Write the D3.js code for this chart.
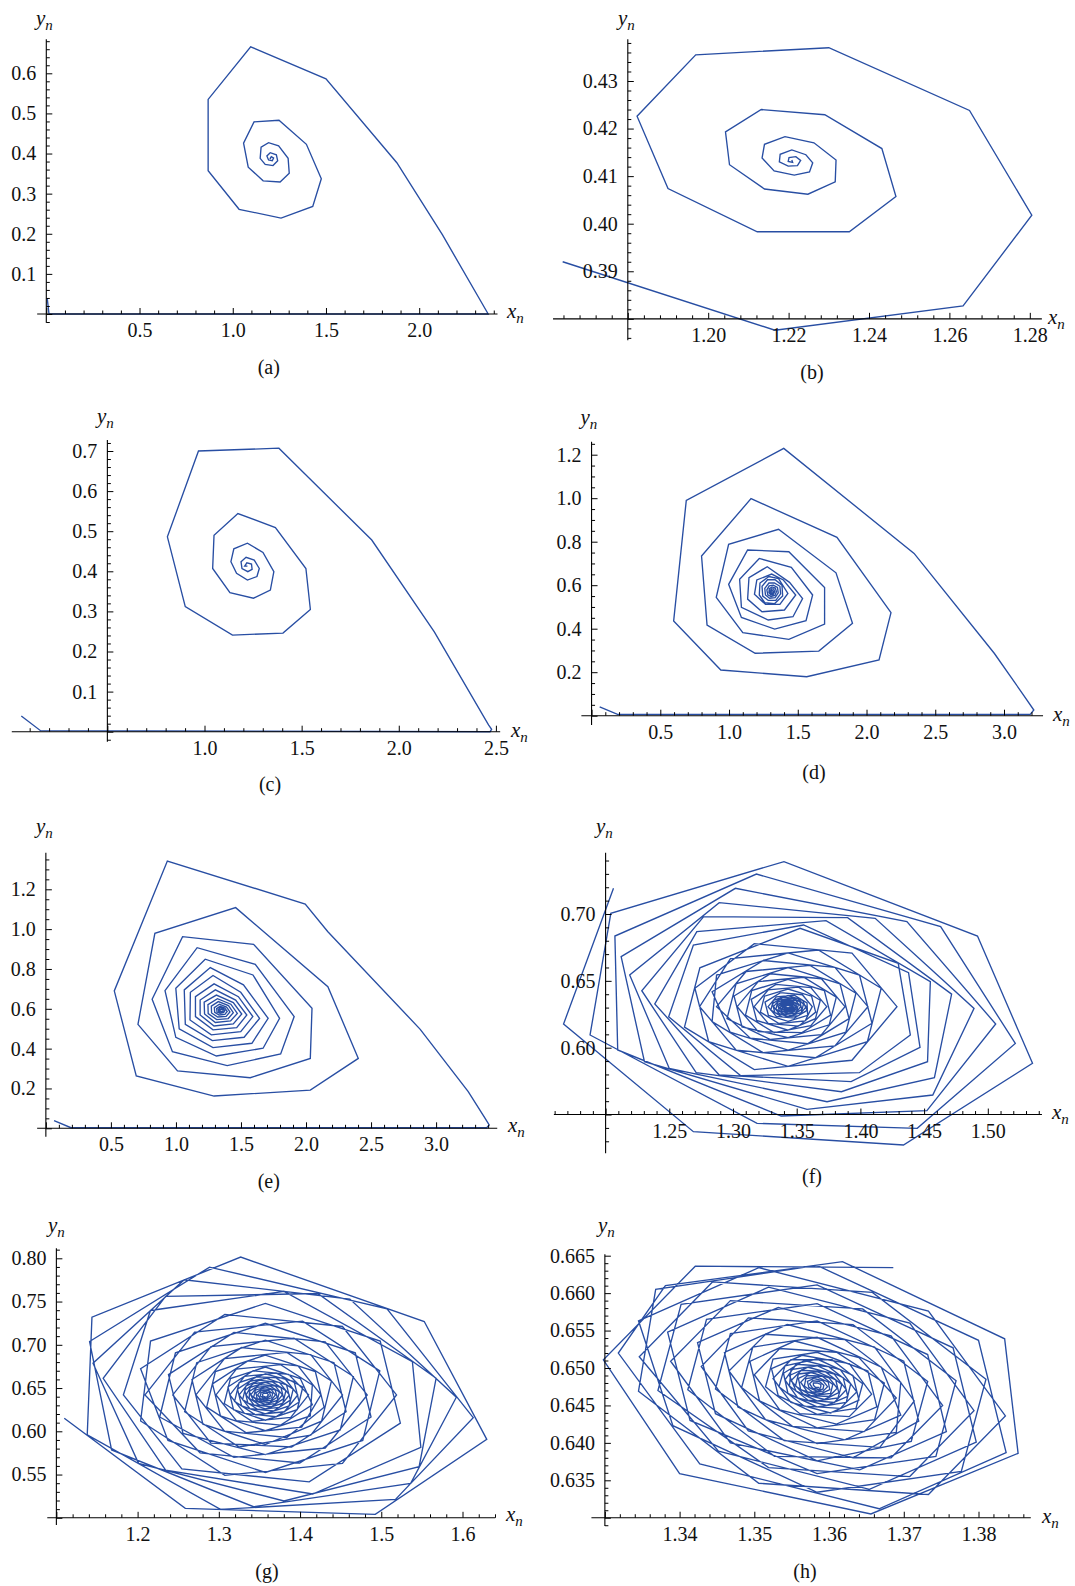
<!DOCTYPE html>
<html>
<head>
<meta charset="utf-8">
<script src="https://d3js.org/d3.v7.min.js"></script>
<style>
  body { margin: 0; background: #fff; }
  text { font-family: "Liberation Serif", "DejaVu Serif", serif; fill: #111; }
  .tl { font-size: 20px; }
  .cap { font-size: 20px; }
  .var { font-size: 21px; font-style: italic; }
  .traj { fill: none; stroke: #284ea3; stroke-width: 1.35; }
  .ax { stroke: #000; stroke-width: 1.1; }
</style>
</head>
<body>
<div id="chart"></div>
<script>
// ---- trajectories (x_n, y_n) ----
var trajA = [[0.005,0.039],[0.0145,0],[2.37,0],[2.125,0.197],[1.880,0.377],[1.500,0.586],[1.096,0.666],[0.868,0.535],[0.868,0.357],[1.034,0.261],[1.259,0.239],[1.429,0.268],[1.475,0.337],[1.395,0.423],[1.248,0.483],[1.114,0.479],[1.058,0.426],[1.083,0.366],[1.163,0.332],[1.254,0.329],[1.303,0.351],[1.297,0.388],[1.246,0.419],[1.192,0.427],[1.152,0.416],[1.147,0.388],[1.174,0.373],[1.216,0.370],[1.241,0.382],[1.234,0.397],[1.201,0.402],[1.183,0.394],[1.192,0.384],[1.212,0.382],[1.219,0.389],[1.207,0.392],[1.201,0.388],[1.205,0.387]];

var trajB = [[1.1638,0.3920],[1.2166,0.3776],[1.2634,0.3827],[1.2805,0.4018],[1.2650,0.4238],[1.2300,0.4370],[1.1969,0.4355],[1.1823,0.4226],[1.1900,0.4074],[1.2122,0.3983],[1.2351,0.3983],[1.2467,0.4057],[1.2432,0.4158],[1.2290,0.4229],[1.2132,0.4240],[1.2043,0.4193],[1.2053,0.4124],[1.2140,0.4073],[1.2248,0.4062],[1.2316,0.4088],[1.2318,0.4134],[1.2263,0.4170],[1.2191,0.4183],[1.2140,0.4167],[1.2134,0.4138],[1.2164,0.4111],[1.2214,0.4102],[1.2252,0.4109],[1.2260,0.4128],[1.2243,0.4145],[1.2208,0.4155],[1.2179,0.4146],[1.2177,0.4130],[1.2199,0.4121],[1.2222,0.4122],[1.2230,0.4133],[1.2218,0.4141],[1.2201,0.4139],[1.2199,0.4131],[1.2210,0.4129],[1.2208,0.4134]];

var trajC = [[0.057,0.039],[0.156,0.0025],[2.47,0],[2.478,0.006],[2.462,0.017],[2.183,0.249],[1.861,0.478],[1.383,0.707],[0.969,0.700],[0.809,0.486],[0.901,0.312],[1.144,0.241],[1.404,0.246],[1.545,0.305],[1.522,0.407],[1.365,0.509],[1.172,0.544],[1.049,0.490],[1.042,0.407],[1.131,0.347],[1.252,0.333],[1.339,0.353],[1.357,0.399],[1.301,0.447],[1.221,0.470],[1.151,0.456],[1.136,0.424],[1.165,0.395],[1.221,0.378],[1.270,0.387],[1.282,0.407],[1.256,0.428],[1.214,0.435],[1.188,0.424],[1.193,0.407],[1.223,0.399],[1.245,0.405],[1.242,0.418],[1.218,0.421],[1.207,0.413],[1.221,0.413]];

var trajD = [[0.059,0.041],[0.189,0.006],[3.191,0.006],[3.217,0.026],[3.142,0.095],[2.929,0.287],[2.346,0.746],[1.398,1.229],[0.689,0.990],[0.597,0.435],[0.940,0.210],[1.565,0.179],[2.091,0.256],[2.178,0.474],[1.785,0.820],[1.160,0.998],[0.800,0.734],[0.840,0.417],[1.190,0.287],[1.653,0.297],[1.898,0.425],[1.778,0.657],[1.360,0.857],[0.997,0.788],[0.907,0.544],[1.100,0.382],[1.435,0.351],[1.695,0.421],[1.695,0.589],[1.435,0.754],[1.135,0.762],[0.997,0.604],[1.090,0.452],[1.332,0.398],[1.560,0.437],[1.608,0.555],[1.453,0.682],[1.220,0.723],[1.077,0.627],[1.090,0.498],[1.285,0.440],[1.465,0.455],[1.535,0.539],[1.440,0.613],[1.278,0.685],[1.145,0.635],[1.135,0.536],[1.240,0.478],[1.403,0.486],[1.485,0.555],[1.395,0.624],[1.310,0.651],[1.202,0.624],[1.185,0.558],[1.265,0.512],[1.370,0.512],[1.428,0.562],[1.36,0.63],[1.29,0.64],[1.225,0.61],[1.22,0.555],[1.26,0.52],[1.33,0.515],[1.39,0.55],[1.385,0.60],[1.335,0.625],[1.28,0.625],[1.24,0.595],[1.245,0.55],[1.285,0.53],[1.34,0.53],[1.375,0.56],[1.37,0.595],[1.33,0.61],[1.29,0.61],[1.26,0.585],[1.265,0.555],[1.295,0.54],[1.335,0.543],[1.358,0.565],[1.352,0.59],[1.322,0.6],[1.292,0.597],[1.275,0.578],[1.282,0.556],[1.305,0.548],[1.333,0.553],[1.345,0.57],[1.336,0.587],[1.313,0.592],[1.293,0.584],[1.29,0.566],[1.303,0.556],[1.322,0.558],[1.332,0.57],[1.325,0.582],[1.31,0.584],[1.298,0.575],[1.302,0.563],[1.316,0.561],[1.322,0.571],[1.312,0.577],[1.305,0.57],[1.311,0.566]];

var trajE = [[0.063,0.038],[0.193,0.003],[3.389,0.003],[3.408,0.017],[3.377,0.050],[3.247,0.184],[2.878,0.497],[2.168,0.987],[1.994,1.126],[0.934,1.342],[0.526,0.690],[0.695,0.263],[1.293,0.162],[2.033,0.192],[2.402,0.351],[2.168,0.711],[1.459,1.108],[0.838,0.979],[0.708,0.522],[1.012,0.288],[1.571,0.254],[2.033,0.351],[2.046,0.603],[1.597,0.924],[1.051,0.962],[0.817,0.648],[0.973,0.385],[1.394,0.315],[1.805,0.373],[1.909,0.561],[1.610,0.823],[1.163,0.907],[0.916,0.691],[0.999,0.457],[1.311,0.363],[1.670,0.402],[1.797,0.552],[1.592,0.770],[1.225,0.849],[0.999,0.703],[1.025,0.499],[1.285,0.405],[1.584,0.427],[1.709,0.552],[1.519,0.720],[1.264,0.807],[1.064,0.695],[1.072,0.522],[1.280,0.440],[1.524,0.457],[1.643,0.552],[1.498,0.683],[1.285,0.767],[1.111,0.683],[1.108,0.544],[1.272,0.469],[1.498,0.485],[1.591,0.561],[1.480,0.661],[1.293,0.725],[1.150,0.661],[1.150,0.561],[1.285,0.494],[1.467,0.505],[1.545,0.569],[1.459,0.644],[1.303,0.695],[1.186,0.644],[1.186,0.569],[1.293,0.514],[1.441,0.524],[1.506,0.574],[1.441,0.631],[1.311,0.669],[1.217,0.633],[1.220,0.574],[1.303,0.531],[1.420,0.539],[1.472,0.577],[1.422,0.623],[1.319,0.651],[1.246,0.621],[1.248,0.576],[1.313,0.546],[1.402,0.551],[1.441,0.581],[1.404,0.616],[1.326,0.636],[1.272,0.613],[1.274,0.579],[1.321,0.559],[1.386,0.562],[1.415,0.584],[1.389,0.609],[1.334,0.623],[1.295,0.606],[1.298,0.582],[1.332,0.569],[1.376,0.572],[1.394,0.587],[1.376,0.604],[1.339,0.613],[1.313,0.601],[1.316,0.584],[1.339,0.577],[1.366,0.581],[1.376,0.591],[1.363,0.601],[1.342,0.606],[1.326,0.597],[1.329,0.587],[1.345,0.584],[1.360,0.587],[1.363,0.594],[1.350,0.599],[1.337,0.596],[1.339,0.589],[1.350,0.589]];

var trajF = [[1.2062,0.7192],[1.1670,0.6177],[1.2689,0.5372],[1.4338,0.5272],[1.5351,0.5883],[1.4919,0.6835],[1.3400,0.7392],[1.2041,0.7005],[1.1878,0.6095],[1.3189,0.5434],[1.4446,0.5397],[1.5216,0.6032],[1.4630,0.6905],[1.3184,0.7299],[1.2073,0.6835],[1.2095,0.5983],[1.3378,0.5489],[1.4522,0.5529],[1.5062,0.6177],[1.4365,0.6943],[1.3019,0.7192],[1.2122,0.6681],[1.2305,0.5895],[1.3581,0.5539],[1.4568,0.5646],[1.4892,0.6294],[1.4116,0.6968],[1.2892,0.7085],[1.2189,0.6544],[1.2500,0.5845],[1.3738,0.5596],[1.4581,0.5776],[1.4716,0.6401],[1.3900,0.6973],[1.2770,0.6980],[1.2284,0.6426],[1.2711,0.5813],[1.3851,0.5671],[1.4527,0.5895],[1.4549,0.6494],[1.3730,0.6950],[1.2716,0.6868],[1.2386,0.6327],[1.2892,0.5796],[1.3927,0.5746],[1.4468,0.6002],[1.4378,0.6561],[1.3554,0.6918],[1.2689,0.6768],[1.2495,0.6232],[1.3059,0.5791],[1.3992,0.5813],[1.4392,0.6095],[1.4297,0.6631],[1.3527,0.6893],
[1.2740,0.6598],[1.2619,0.6154],[1.3167,0.5836],[1.3934,0.5906],[1.4287,0.6307],[1.3934,0.6708],[1.3167,0.6778],
[1.2701,0.6445],[1.2809,0.6045],[1.3432,0.5861],[1.4055,0.6045],[1.4163,0.6445],[1.3670,0.6731],[1.2980,0.6667],
[1.2738,0.6307],[1.3025,0.5982],[1.3647,0.5925],[1.4091,0.6183],[1.3993,0.6543],[1.3432,0.6709],[1.2871,0.6543],
[1.2836,0.6195],[1.3238,0.5962],[1.3800,0.6013],[1.4059,0.6307],[1.3800,0.6601],[1.3238,0.6652],[1.2836,0.6419],
[1.2978,0.6116],[1.3432,0.5982],[1.3886,0.6116],[1.3965,0.6407],[1.3605,0.6616],[1.3103,0.6570],[1.2871,0.6307],
[1.3136,0.6071],[1.3588,0.6030],[1.3911,0.6217],[1.3840,0.6478],[1.3432,0.6599],[1.3024,0.6478],[1.2953,0.6217],
[1.3294,0.6061],[1.3694,0.6098],[1.3879,0.6307],[1.3694,0.6516],[1.3294,0.6553],[1.3008,0.6387],[1.3071,0.6155],
[1.3432,0.6076],[1.3755,0.6171],[1.3811,0.6378],[1.3555,0.6527],[1.3198,0.6494],[1.3033,0.6307],[1.3198,0.6120],
[1.3541,0.6113],[1.3766,0.6244],[1.3717,0.6427],[1.3432,0.6511],[1.3147,0.6427],[1.3098,0.6244],[1.3323,0.6113],
[1.3611,0.6165],[1.3736,0.6307],[1.3611,0.6449],[1.3338,0.6474],[1.3143,0.6361],[1.3186,0.6204],[1.3432,0.6131],
[1.3647,0.6217],[1.3685,0.6355],[1.3514,0.6453],[1.3276,0.6432],[1.3166,0.6307],[1.3276,0.6182],[1.3514,0.6161],
[1.3649,0.6266],[1.3617,0.6385],[1.3432,0.6439],[1.3247,0.6385],[1.3215,0.6266],[1.3361,0.6181],[1.3566,0.6200],
[1.3622,0.6307],[1.3544,0.6396],[1.3373,0.6412],[1.3251,0.6341],[1.3278,0.6242],[1.3432,0.6197],[1.3586,0.6242],
[1.3581,0.6335],[1.3481,0.6393],[1.3340,0.6380],[1.3275,0.6307],[1.3340,0.6234],[1.3481,0.6221],[1.3581,0.6279],
[1.3547,0.6355],[1.3432,0.6390],[1.3317,0.6355],[1.3297,0.6281],[1.3388,0.6229],[1.3516,0.6240],[1.3575,0.6307],
[1.3507,0.6367],[1.3392,0.6378],[1.3310,0.6330],[1.3328,0.6263],[1.3432,0.6233],[1.3536,0.6263],[1.3554,0.6330],
[1.3467,0.6370],[1.3365,0.6360],[1.3318,0.6307],[1.3365,0.6254],[1.3467,0.6244],[1.3540,0.6287],[1.3524,0.6346],
[1.3432,0.6365],[1.3351,0.6341],[1.3337,0.6289],[1.3401,0.6252],[1.3491,0.6260],[1.3532,0.6307],[1.3491,0.6354],
[1.3406,0.6354],[1.3351,0.6322],[1.3363,0.6278],[1.3432,0.6257],[1.3501,0.6278],[1.3513,0.6322],[1.3458,0.6354],
[1.3388,0.6342],[1.3358,0.6307],[1.3388,0.6272],[1.3455,0.6266],[1.3502,0.6294],[1.3492,0.6332],[1.3432,0.6350],
[1.3381,0.6328],[1.3372,0.6296],[1.3413,0.6272],[1.3469,0.6278],[1.3495,0.6307],[1.3469,0.6336],[1.3413,0.6342],
[1.3383,0.6316],[1.3390,0.6290],[1.3432,0.6277],[1.3474,0.6290],[1.3481,0.6316],[1.3448,0.6335],[1.3402,0.6331],
[1.3392,0.6307],[1.3409,0.6288],[1.3444,0.6285],[1.3470,0.6300],[1.3464,0.6321],[1.3432,0.6330],[1.3400,0.6321],
[1.3405,0.6302],[1.3423,0.6291],[1.3449,0.6294],[1.3461,0.6307],[1.3449,0.6320],[1.3423,0.6323],[1.3405,0.6312],
[1.3418,0.6301],[1.3432,0.6297],[1.3446,0.6301],[1.3448,0.6310],[1.3437,0.6316],[1.3422,0.6315],[1.3415,0.6307]];

var trajG = [[1.1097,0.6150],[1.2587,0.5109],[1.4926,0.5039],[1.6299,0.5907],[1.5529,0.7269],[1.3269,0.8014],[1.1438,0.7319],[1.1380,0.5958],[1.3020,0.5097],[1.5175,0.5213],[1.6132,0.6158],[1.5071,0.7416],[1.2886,0.7898],[1.1409,0.7038],[1.1680,0.5784],[1.3427,0.5128],[1.5362,0.5398],[1.5924,0.6394],[1.4613,0.7528],[1.2574,0.7752],[1.1451,0.6787],[1.2012,0.5630],[1.3802,0.5194],[1.5466,0.5591],[1.5675,0.6613],[1.4218,0.7593],[1.2345,0.7559],[1.1576,0.6613],[1.2345,0.5552],[1.4156,0.5275],[1.5487,0.5815],[1.5383,0.6806],[1.3802,0.7617],[1.2158,0.7397],
[1.1825,0.6421],[1.2545,0.5565],[1.4113,0.5415],[1.5235,0.6094],[1.4987,0.7043],[1.3573,0.7479],[1.2159,0.7043],
[1.2037,0.6119],[1.3074,0.5491],[1.4522,0.5630],[1.5188,0.6421],[1.4522,0.7212],[1.3074,0.7351],[1.2037,0.6723],
[1.2374,0.5894],[1.3573,0.5524],[1.4772,0.5894],[1.4982,0.6698],[1.4031,0.7274],[1.2702,0.7146],[1.2091,0.6421],
[1.2769,0.5751],[1.3996,0.5633],[1.4874,0.6165],[1.4680,0.6908],[1.3573,0.7249],[1.2466,0.6908],[1.2272,0.6165],
[1.3186,0.5699],[1.4310,0.5807],[1.4827,0.6421],[1.4310,0.7035],[1.3186,0.7143],[1.2380,0.6655],[1.2559,0.5975],
[1.3573,0.5731],[1.4495,0.6015],[1.4657,0.6634],[1.3925,0.7077],[1.2903,0.6979],[1.2433,0.6421],[1.2903,0.5863],
[1.3896,0.5819],[1.4567,0.6226],[1.4418,0.6793],[1.3573,0.7054],[1.2728,0.6793],[1.2579,0.6226],[1.3250,0.5819],
[1.4132,0.5956],[1.4523,0.6421],[1.4132,0.6886],[1.3279,0.6968],[1.2669,0.6599],[1.2804,0.6083],[1.3573,0.5846],
[1.4265,0.6117],[1.4386,0.6581],[1.3837,0.6913],[1.3070,0.6840],[1.2718,0.6421],[1.3070,0.6002],[1.3837,0.5929],
[1.4296,0.6279],[1.4188,0.6691],[1.3573,0.6881],[1.2958,0.6691],[1.2850,0.6279],[1.3338,0.5983],[1.4020,0.6049],
[1.4257,0.6421],[1.3975,0.6756],[1.3362,0.6815],[1.2922,0.6549],[1.3020,0.6178],[1.3573,0.6007],[1.4126,0.6178],
[1.4151,0.6535],[1.3761,0.6771],[1.3216,0.6719],[1.2965,0.6421],[1.3216,0.6123],[1.3761,0.6071],[1.4151,0.6307],
[1.4003,0.6610],[1.3573,0.6743],[1.3143,0.6610],[1.3067,0.6322],[1.3409,0.6115],[1.3886,0.6161],[1.4105,0.6421],
[1.3858,0.6658],[1.3423,0.6700],[1.3112,0.6512],[1.3181,0.6249],[1.3573,0.6128],[1.3965,0.6249],[1.4034,0.6512],
[1.3708,0.6673],[1.3316,0.6635],[1.3136,0.6421],[1.3316,0.6207],[1.3708,0.6169],[1.3989,0.6339],[1.3927,0.6576],
[1.3573,0.6663],[1.3250,0.6563],[1.3194,0.6346],[1.3450,0.6191],[1.3808,0.6226],[1.3972,0.6421],[1.3808,0.6616],
[1.3461,0.6629],[1.3230,0.6488],[1.3281,0.6293],[1.3573,0.6202],[1.3865,0.6293],[1.3916,0.6488],[1.3685,0.6629],
[1.3383,0.6579],[1.3250,0.6421],[1.3383,0.6263],[1.3673,0.6235],[1.3880,0.6361],[1.3834,0.6536],[1.3573,0.6617],
[1.3335,0.6526],[1.3293,0.6366],[1.3482,0.6251],[1.3746,0.6277],[1.3868,0.6421],[1.3746,0.6565],[1.3482,0.6591],
[1.3320,0.6471],[1.3358,0.6326],[1.3573,0.6260],[1.3788,0.6326],[1.3826,0.6471],[1.3655,0.6574],[1.3417,0.6551],
[1.3335,0.6421],[1.3433,0.6305],[1.3646,0.6284],[1.3799,0.6377],[1.3765,0.6506],[1.3573,0.6565],[1.3381,0.6506],
[1.3374,0.6382],[1.3508,0.6301],[1.3696,0.6319],[1.3782,0.6421],[1.3696,0.6523],[1.3508,0.6541],[1.3374,0.6460],
[1.3427,0.6357],[1.3573,0.6312],[1.3719,0.6357],[1.3745,0.6455],[1.3629,0.6525],[1.3467,0.6509],[1.3392,0.6421],
[1.3484,0.6347],[1.3620,0.6333],[1.3718,0.6393],[1.3696,0.6475],[1.3573,0.6513],[1.3450,0.6475],[1.3428,0.6393],
[1.3535,0.6350],[1.3646,0.6361],[1.3697,0.6421],[1.3646,0.6481],[1.3535,0.6492],[1.3456,0.6444],[1.3473,0.6377],
[1.3573,0.6363],[1.3650,0.6387],[1.3663,0.6439],[1.3602,0.6476],[1.3517,0.6468],[1.3478,0.6421],[1.3517,0.6374],
[1.3594,0.6383],[1.3636,0.6409],[1.3627,0.6445],[1.3573,0.6461],[1.3519,0.6445],[1.3510,0.6409],[1.3552,0.6383],
[1.3595,0.6402],[1.3611,0.6421],[1.3595,0.6440],[1.3561,0.6443],[1.3537,0.6428],[1.3542,0.6407],[1.3573,0.6398]];

var trajH = [[1.3686,0.6634],[1.3421,0.6636],[1.3298,0.6511],[1.3400,0.6359],[1.3656,0.6305],[1.3853,0.6386],[1.3835,0.6539],[1.3618,0.6642],[1.3381,0.6610],
[1.3318,0.6520],[1.3427,0.6372],[1.3667,0.6312],[1.3837,0.6387],[1.3800,0.6537],[1.3584,0.6637],[1.3368,0.6605],
[1.3345,0.6469],[1.3506,0.6346],[1.3733,0.6331],[1.3836,0.6436],[1.3733,0.6576],[1.3506,0.6634],[1.3345,0.6563],
[1.3391,0.6423],[1.3584,0.6334],[1.3777,0.6362],[1.3810,0.6485],[1.3658,0.6601],[1.3444,0.6615],[1.3346,0.6515],
[1.3452,0.6389],[1.3654,0.6338],[1.3797,0.6401],[1.3766,0.6527],[1.3584,0.6611],[1.3402,0.6585],[1.3371,0.6470],
[1.3519,0.6367],[1.3708,0.6355],[1.3794,0.6443],[1.3708,0.6560],[1.3519,0.6608],[1.3384,0.6548],[1.3414,0.6430],
[1.3584,0.6359],[1.3743,0.6382],[1.3770,0.6483],[1.3645,0.6579],[1.3468,0.6590],[1.3388,0.6509],[1.3468,0.6400],
[1.3641,0.6364],[1.3757,0.6415],[1.3732,0.6518],[1.3584,0.6586],[1.3436,0.6565],[1.3411,0.6471],[1.3527,0.6382],
[1.3683,0.6380],[1.3752,0.6450],[1.3683,0.6543],[1.3532,0.6581],[1.3424,0.6534],[1.3448,0.6439],[1.3584,0.6376],
[1.3710,0.6402],[1.3732,0.6482],[1.3632,0.6558],[1.3492,0.6567],[1.3429,0.6502],[1.3492,0.6416],[1.3632,0.6380],
[1.3720,0.6429],[1.3700,0.6509],[1.3584,0.6563],[1.3468,0.6546],[1.3448,0.6472],[1.3540,0.6403],[1.3668,0.6394],
[1.3714,0.6456],[1.3661,0.6528],[1.3544,0.6558],[1.3460,0.6521],[1.3478,0.6448],[1.3584,0.6399],[1.3690,0.6414],
[1.3696,0.6481],[1.3621,0.6538],[1.3515,0.6545],[1.3466,0.6496],[1.3515,0.6431],[1.3621,0.6404],[1.3696,0.6437],
[1.3670,0.6501],[1.3584,0.6541],[1.3498,0.6528],[1.3483,0.6474],[1.3551,0.6422],[1.3647,0.6415],[1.3690,0.6460],
[1.3640,0.6514],[1.3554,0.6536],[1.3494,0.6509],[1.3507,0.6456],[1.3584,0.6420],[1.3661,0.6431],[1.3674,0.6480],
[1.3610,0.6521],[1.3534,0.6526],[1.3500,0.6491],[1.3534,0.6444],[1.3610,0.6425],[1.3664,0.6448],[1.3652,0.6496],
[1.3584,0.6521],[1.3525,0.6512],[1.3515,0.6475],[1.3561,0.6439],[1.3627,0.6435],[1.3657,0.6465],[1.3627,0.6506],
[1.3564,0.6517],[1.3523,0.6499],[1.3532,0.6463],[1.3584,0.6438],[1.3636,0.6446],[1.3645,0.6479],[1.3604,0.6511],
[1.3549,0.6511],[1.3525,0.6486],[1.3549,0.6454],[1.3602,0.6440],[1.3640,0.6457],[1.3632,0.6490],[1.3584,0.6512],
[1.3541,0.6503],[1.3533,0.6475],[1.3567,0.6449],[1.3615,0.6446],[1.3637,0.6468],[1.3615,0.6498],[1.3567,0.6510],
[1.3539,0.6493],[1.3545,0.6466],[1.3584,0.6448],[1.3623,0.6454],[1.3629,0.6479],[1.3599,0.6502],[1.3556,0.6505],
[1.3541,0.6484],[1.3558,0.6460],[1.3597,0.6450],[1.3625,0.6462],[1.3619,0.6487],[1.3584,0.6503],[1.3549,0.6498],
[1.3547,0.6476],[1.3572,0.6457],[1.3607,0.6454],[1.3623,0.6471],[1.3607,0.6492],[1.3572,0.6501],[1.3547,0.6490],
[1.3556,0.6469],[1.3584,0.6456],[1.3612,0.6460],[1.3617,0.6478],[1.3595,0.6495],[1.3563,0.6497],[1.3549,0.6483],
[1.3566,0.6465],[1.3594,0.6458],[1.3613,0.6467],[1.3609,0.6484],[1.3584,0.6495],[1.3559,0.6492],[1.3555,0.6476],
[1.3576,0.6463],[1.3600,0.6462],[1.3611,0.6473],[1.3600,0.6487],[1.3576,0.6494],[1.3559,0.6486],[1.3562,0.6471],
[1.3584,0.6464],[1.3602,0.6466],[1.3605,0.6478],[1.3591,0.6489],[1.3571,0.6490],[1.3562,0.6481],[1.3571,0.6468],
[1.3590,0.6466],[1.3601,0.6471],[1.3599,0.6481],[1.3584,0.6488],[1.3569,0.6486],[1.3567,0.6476],[1.3578,0.6468],
[1.3592,0.6469],[1.3598,0.6475],[1.3592,0.6483],[1.3580,0.6486],[1.3571,0.6482],[1.3573,0.6474],[1.3584,0.6469],
[1.3592,0.6472],[1.3593,0.6477],[1.3587,0.6482],[1.3578,0.6483],[1.3574,0.6479],[1.3578,0.6473],[1.3587,0.6471],
[1.3589,0.6475],[1.3589,0.6478],[1.3584,0.6480],[1.3579,0.6480],[1.3579,0.6477],[1.3582,0.6474],[1.3587,0.6474]];

// ---- tick labels ----
var xLabA = [0.5, 1.0, 1.5, 2.0],            yLabA = [0.1, 0.2, 0.3, 0.4, 0.5, 0.6];
var xLabB = [1.20, 1.22, 1.24, 1.26, 1.28],  yLabB = [0.39, 0.40, 0.41, 0.42, 0.43];
var xLabC = [1.0, 1.5, 2.0, 2.5],            yLabC = [0.1, 0.2, 0.3, 0.4, 0.5, 0.6, 0.7];
var xLabD = [0.5, 1.0, 1.5, 2.0, 2.5, 3.0],  yLabD = [0.2, 0.4, 0.6, 0.8, 1.0, 1.2];
var xLabE = [0.5, 1.0, 1.5, 2.0, 2.5, 3.0],  yLabE = [0.2, 0.4, 0.6, 0.8, 1.0, 1.2];
var xLabF = [1.25, 1.30, 1.35, 1.40, 1.45, 1.50], yLabF = [0.60, 0.65, 0.70];
var xLabG = [1.2, 1.3, 1.4, 1.5, 1.6],       yLabG = [0.55, 0.60, 0.65, 0.70, 0.75, 0.80];
var xLabH = [1.34, 1.35, 1.36, 1.37, 1.38],  yLabH = [0.635, 0.640, 0.645, 0.650, 0.655, 0.660, 0.665];

// ---- panel layout (pixel positions of two reference values per axis) ----
var panels = [
  {cap: "(a)", data: trajA, xLab: xLabA, yLab: yLabA, xFmt: ".1f", yFmt: ".1f",
   xDom: [0, 2], xPx: [46.3, 419.2], yDom: [0, 0.6], yPx: [314, 73.3], origin: [0, 0],
   xExt: [-0.049, 2.42], yExt: [-0.0217, 0.685], xStep: [0.5, 0.1], yStep: [0.1, 0.02],
   yName: [36, 25], xName: [507, 318], capPos: [268.8, 374]},
  {cap: "(b)", data: trajB, xLab: xLabB, yLab: yLabB, xFmt: ".2f", yFmt: ".2f",
   xDom: [1.20, 1.28], xPx: [708.2, 1029.8], yDom: [0.40, 0.43], yPx: [223.7, 81], origin: [1.18, 0.38],
   xExt: [1.1614, 1.283], yExt: [0.3755, 0.4388], xStep: [0.02, 0.004], yStep: [0.01, 0.002],
   yName: [618, 25], xName: [1048, 324], capPos: [812, 379]},
  {cap: "(c)", data: trajC, xLab: xLabC, yLab: yLabC, xFmt: ".1f", yFmt: ".1f",
   xDom: [1, 2.5], xPx: [204.5, 495.9], yDom: [0, 0.7], yPx: [731.7, 451], origin: [0.5, 0],
   xExt: [0.008, 2.522], yExt: [-0.025, 0.7274], xStep: [0.5, 0.1], yStep: [0.1, 0.02],
   yName: [97, 423], xName: [511, 737], capPos: [270, 791]},
  {cap: "(d)", data: trajD, xLab: xLabD, yLab: yLabD, xFmt: ".1f", yFmt: ".1f",
   xDom: [0.5, 3], xPx: [660.3, 1004], yDom: [0, 1.2], yPx: [715.7, 454.7], origin: [0, 0],
   xExt: [-0.074, 3.284], yExt: [-0.043, 1.26], xStep: [0.5, 0.1], yStep: [0.2, 0.05],
   yName: [580.5, 424], xName: [1053, 721], capPos: [814, 779]},
  {cap: "(e)", data: trajE, xLab: xLabE, yLab: yLabE, xFmt: ".1f", yFmt: ".1f",
   xDom: [0.5, 3], xPx: [110.9, 436.1], yDom: [0, 1.2], yPx: [1128.3, 889.3], origin: [0, 0],
   xExt: [-0.067, 3.47], yExt: [-0.042, 1.384], xStep: [0.5, 0.1], yStep: [0.2, 0.05],
   yName: [36, 833], xName: [508, 1132], capPos: [268.8, 1188]},
  {cap: "(f)", data: trajF, xLab: xLabF, yLab: yLabF, xFmt: ".2f", yFmt: ".2f",
   xDom: [1.25, 1.5], xPx: [669.3, 987.8], yDom: [0.6, 0.7], yPx: [1047.7, 914], origin: [1.2, 0.55],
   xExt: [1.1594, 1.5425], yExt: [0.521, 0.7458], xStep: [0.05, 0.01], yStep: [0.05, 0.01],
   yName: [596, 833], xName: [1052, 1119], capPos: [812, 1183]},
  {cap: "(g)", data: trajG, xLab: xLabG, yLab: yLabG, xFmt: ".1f", yFmt: ".2f",
   xDom: [1.2, 1.6], xPx: [137.6, 462.5], yDom: [0.6, 0.8], yPx: [1431.3, 1258.3], origin: [1.1, 0.5],
   xExt: [1.0888, 1.6403], yExt: [0.4917, 0.8116], xStep: [0.1, 0.02], yStep: [0.05, 0.01],
   yName: [48, 1232], xName: [506, 1521], capPos: [267, 1578]},
  {cap: "(h)", data: trajH, xLab: xLabH, yLab: yLabH, xFmt: ".2f", yFmt: ".3f",
   xDom: [1.34, 1.38], xPx: [679.6, 978.5], yDom: [0.635, 0.665], yPx: [1480.3, 1255.7], origin: [1.33, 0.63],
   xExt: [1.3282, 1.387], yExt: [0.6289, 0.6652], xStep: [0.01, 0.002], yStep: [0.005, 0.001],
   yName: [598, 1232], xName: [1042, 1523], capPos: [805, 1578]}
];

var svg = d3.select("#chart").append("svg")
    .attr("width", 1075)
    .attr("height", 1586)
    .style("background", "#fff");

function stepValues(ext, step) {
    var i0 = Math.ceil(ext[0] / step - 1e-6), i1 = Math.floor(ext[1] / step + 1e-6);
    return d3.range(i0, i1 + 1).map(function (i) { return +(i * step).toFixed(6); });
}
function isMult(v, step) {
    return Math.abs(v / step - Math.round(v / step)) < 1e-6;
}
function cleanAxis(sel) {
    sel.select(".domain").remove();
    sel.attr("font-family", null).attr("font-size", null);
    sel.selectAll("text").attr("class", "tl").attr("fill", null);
}

function drawPanel(p) {
    var x = d3.scaleLinear().domain(p.xDom).range(p.xPx);
    var y = d3.scaleLinear().domain(p.yDom).range(p.yPx);
    var ox = x(p.origin[0]), oy = y(p.origin[1]);
    var g = svg.append("g");

    var xMajor = stepValues(p.xExt, p.xStep[0]);
    var xMinor = stepValues(p.xExt, p.xStep[1]).filter(function (v) { return !isMult(v, p.xStep[0]); });
    var yMajor = stepValues(p.yExt, p.yStep[0]);
    var yMinor = stepValues(p.yExt, p.yStep[1]).filter(function (v) { return !isMult(v, p.yStep[0]); });

    // trajectory
    g.append("path")
        .datum(p.data)
        .attr("class", "traj")
        .attr("d", d3.line().x(function (d) { return x(d[0]); }).y(function (d) { return y(d[1]); }));

    // axis lines
    g.append("line").attr("class", "ax")
        .attr("x1", x(p.xExt[0])).attr("x2", x(p.xExt[1])).attr("y1", oy).attr("y2", oy);
    g.append("line").attr("class", "ax")
        .attr("x1", ox).attr("x2", ox).attr("y1", y(p.yExt[0])).attr("y2", y(p.yExt[1]));

    // ticks (drawn inward: up on x axis, right on y axis)
    g.append("g").attr("transform", "translate(0," + oy + ")")
        .call(d3.axisTop(x).tickValues(xMinor).tickSize(3.5).tickFormat(""))
        .call(cleanAxis);
    g.append("g").attr("transform", "translate(0," + oy + ")")
        .call(d3.axisTop(x).tickValues(xMajor).tickSize(6).tickFormat(""))
        .call(cleanAxis);
    g.append("g").attr("transform", "translate(" + ox + ",0)")
        .call(d3.axisRight(y).tickValues(yMinor).tickSize(3.5).tickFormat(""))
        .call(cleanAxis);
    g.append("g").attr("transform", "translate(" + ox + ",0)")
        .call(d3.axisRight(y).tickValues(yMajor).tickSize(6).tickFormat(""))
        .call(cleanAxis);

    // tick labels
    g.append("g").attr("transform", "translate(0," + oy + ")")
        .call(d3.axisBottom(x).tickValues(p.xLab).tickSize(0).tickPadding(8.8).tickFormat(d3.format(p.xFmt)))
        .call(cleanAxis);
    g.append("g").attr("transform", "translate(" + ox + ",0)")
        .call(d3.axisLeft(y).tickValues(p.yLab).tickSize(0).tickPadding(10).tickFormat(d3.format(p.yFmt)))
        .call(cleanAxis);

    // axis names
    var yn = g.append("text").attr("class", "var").attr("x", p.yName[0]).attr("y", p.yName[1]);
    yn.append("tspan").text("y");
    yn.append("tspan").attr("font-size", 15).attr("dy", 5).text("n");
    var xn = g.append("text").attr("class", "var").attr("x", p.xName[0]).attr("y", p.xName[1]);
    xn.append("tspan").text("x");
    xn.append("tspan").attr("font-size", 15).attr("dy", 5).text("n");

    // caption
    g.append("text").attr("class", "cap")
        .attr("x", p.capPos[0]).attr("y", p.capPos[1])
        .attr("text-anchor", "middle")
        .text(p.cap);
}

panels.forEach(drawPanel);
</script>
</body>
</html>
